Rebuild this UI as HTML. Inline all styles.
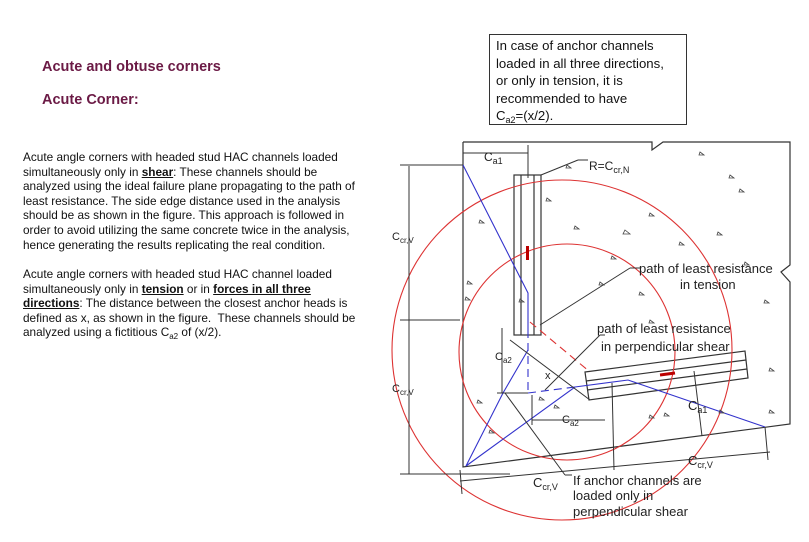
<!DOCTYPE html>
<html><head><meta charset="utf-8"><style>
body{margin:0;width:809px;height:542px;background:#fff;position:relative;overflow:hidden;font-family:"Liberation Sans",sans-serif;}
.t{position:absolute;color:#6b1a45;font-weight:bold;font-size:14.5px;}
.p{position:absolute;left:23px;width:360px;font-size:11.8px;line-height:14.6px;color:#111;white-space:nowrap;}
.p b{text-decoration:underline;}
sub{vertical-align:-3px;line-height:0;font-size:8px;}
.box{position:absolute;left:489px;top:34px;width:198px;height:91px;border:1.5px solid #333;font-size:13.2px;line-height:17.6px;padding:2px 0 0 6px;box-sizing:border-box;color:#111;white-space:nowrap;}
svg{position:absolute;left:0;top:0;}
</style></head><body>
<div class="t" style="left:42px;top:59px">Acute and obtuse corners</div>
<div class="t" style="left:42px;top:92px">Acute Corner:</div>
<div class="p" style="top:150px">Acute angle corners with headed stud HAC channels loaded<br>simultaneously only in <b>shear</b>: These channels should be<br>analyzed using the ideal failure plane propagating to the path of<br>least resistance. The side edge distance used in the analysis<br>should be as shown in the figure. This approach is followed in<br>order to avoid utilizing the same concrete twice in the analysis,<br>hence generating the results replicating the real condition.</div>
<div class="p" style="top:267px">Acute angle corners with headed stud HAC channel loaded<br>simultaneously only in <b>tension</b> or in <b>forces in all three</b><br><b>directions</b>: The distance between the closest anchor heads is<br>defined as x, as shown in the figure.&nbsp; These channels should be<br>analyzed using a fictitious C<sub>a2</sub> of (x/2).</div>
<div class="box">In case of anchor channels<br>loaded in all three directions,<br>or only in tension, it is<br>recommended to have<br>C<sub style="font-size:9px">a2</sub>=(x/2).</div>
<svg width="809" height="542" viewBox="0 0 809 542" font-family="Liberation Sans, sans-serif">
<g fill="none" stroke="#333" stroke-width="1.2">
<polyline points="463,142 463,467 790,424 790,282 781,272 790,265 790,142 663,142 652,150 652,142 463,142"/>
<rect x="514" y="175" width="27" height="160"/>
<line x1="521" y1="175" x2="521" y2="335"/><line x1="534" y1="175" x2="534" y2="335"/>
<polygon points="585,372 745,351 748,378 589,400"/>
<line x1="586" y1="381" x2="746" y2="360"/><line x1="587" y1="390" x2="747" y2="369"/>
</g>
<g fill="none" stroke="#d33" stroke-width="1.1">
<circle cx="562" cy="350" r="170"/>
<circle cx="567" cy="352" r="108"/>
<line x1="530" y1="322" x2="590" y2="372" stroke-dasharray="8,5"/>
</g>
<g fill="none" stroke="#33c" stroke-width="1.1">
<polyline points="463,165 528,293 528,330"/>
<line x1="528" y1="330" x2="528" y2="393" stroke-dasharray="8,5"/>
<line x1="528" y1="393" x2="575" y2="387" stroke-dasharray="8,5"/>
<polyline points="466,466 503,393 528,350"/>
<polyline points="466,466 575,387 628,380 765,427"/>
</g>
<g stroke="#333" stroke-width="1" fill="#000">
<line x1="409" y1="166" x2="409" y2="474"/>
<line x1="400" y1="165" x2="463" y2="165"/><line x1="400" y1="320" x2="460" y2="320"/><line x1="400" y1="474" x2="510" y2="474"/>
<line x1="463" y1="153" x2="528" y2="153"/><line x1="528" y1="145" x2="528" y2="178"/>
<line x1="502" y1="328" x2="502" y2="393"/><line x1="497" y1="393" x2="528" y2="393"/>
<line x1="532" y1="420" x2="605" y2="420"/><line x1="532" y1="395" x2="532" y2="425"/>
<line x1="612" y1="383" x2="614" y2="470"/>
<line x1="694" y1="371" x2="702" y2="436"/>
<line x1="460" y1="481" x2="770" y2="452"/><line x1="460" y1="470" x2="462" y2="494"/><line x1="765" y1="427" x2="768" y2="460"/>
<line x1="510" y1="340" x2="590" y2="400"/>
<line x1="505" y1="393" x2="565" y2="475"/><line x1="565" y1="475" x2="572" y2="475"/>
<line x1="540" y1="325" x2="630" y2="268"/><line x1="630" y1="268" x2="640" y2="268"/>
<line x1="545" y1="390" x2="600" y2="335"/><line x1="600" y1="335" x2="605" y2="335"/>
<line x1="541" y1="175" x2="578" y2="160"/><line x1="578" y1="160" x2="588" y2="160"/>
</g>
<g fill="#222" font-size="12">
<text x="484" y="161">C<tspan font-size="9" dy="3">a1</tspan></text>
<text x="589" y="170">R=C<tspan font-size="9" dy="3">cr,N</tspan></text>
<text x="392" y="240" font-size="11">C<tspan font-size="8" dy="3">cr,V</tspan></text>
<text x="392" y="392" font-size="11">C<tspan font-size="8" dy="3">cr,V</tspan></text>
<text x="495" y="360" font-size="11">C<tspan font-size="8" dy="3">a2</tspan></text>
<text x="545" y="379" font-size="11">x</text>
<text x="562" y="423" font-size="11">C<tspan font-size="8" dy="3">a2</tspan></text>
<text x="688" y="410" font-size="13">C<tspan font-size="9" dy="3">a1</tspan></text>
<text x="688" y="465" font-size="13">C<tspan font-size="9" dy="3">cr,V</tspan></text>
<text x="533" y="487" font-size="13">C<tspan font-size="9" dy="3">cr,V</tspan></text>
<text x="639" y="273" font-size="13">path of least resistance</text>
<text x="680" y="289" font-size="13">in tension</text>
<text x="597" y="333" font-size="13">path of least resistance</text>
<text x="601" y="351" font-size="13">in perpendicular shear</text>
<text x="573" y="485" font-size="13">If anchor channels are</text>
<text x="573" y="500" font-size="13">loaded only in</text>
<text x="573" y="516" font-size="13">perpendicular shear</text>
</g>
<rect x="526" y="246" width="3" height="14" fill="#b00"/>
<line x1="660" y1="375" x2="675" y2="373" stroke="#b00" stroke-width="3"/>
<g fill="none" stroke="#444" stroke-width="0.8">
<path d="M567,165 l4,3 -5,0z M700,152 l4,3 -5,0z M547,198 l4,3 -5,0z M575,226 l4,3 -5,0z M650,213 l4,3 -5,0z M730,175 l4,3 -5,0z M740,189 l4,3 -5,0z M718,232 l4,3 -5,0z M625,230 l5,4 -7,0z M480,220 l4,3 -5,0z M468,281 l4,3 -5,0z M466,297 l4,3 -5,0z M612,256 l4,3 -5,0z M640,292 l4,3 -5,0z M745,262 l4,3 -5,0z M765,300 l4,3 -5,0z M770,368 l4,3 -5,0z M770,410 l4,3 -5,0z M520,299 l4,3 -5,0z M478,400 l4,3 -5,0z M490,430 l4,3 -5,0z M540,397 l4,3 -5,0z M555,405 l4,3 -5,0z M650,415 l4,3 -5,0z M665,413 l4,3 -5,0z M720,410 l4,3 -5,0z M680,242 l4,3 -5,0z M600,282 l4,3 -5,0z M650,320 l4,3 -5,0z"/>
</g>
</svg>
</body></html>
